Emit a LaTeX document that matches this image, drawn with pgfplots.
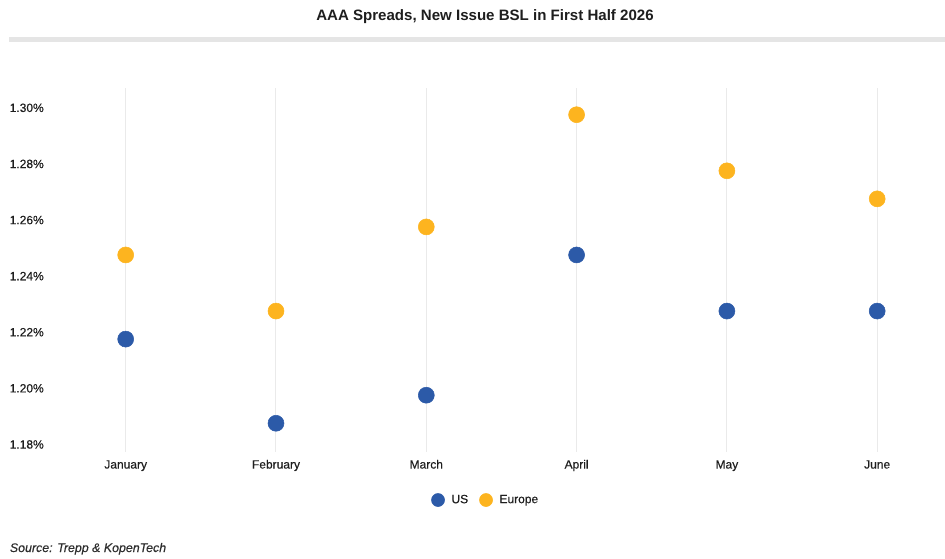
\documentclass[border=0pt]{standalone}
\usepackage{pgfplots}
\pgfplotsset{compat=1.18}
\usepackage{pgfplotstable}
\usepackage{fontspec}
\setmainfont{Liberation Sans}
% slightly heavier face for labels
\newfontfamily\medfont[FakeBold=0.35]{Liberation Sans}

\definecolor{usblue}{HTML}{2C5AA8}
\definecolor{euyellow}{HTML}{FDB41F}
\definecolor{gridgray}{HTML}{EAEAEA}
\definecolor{bargray}{HTML}{E5E5E5}
\definecolor{txt}{HTML}{1E1E1E}
\definecolor{srctxt}{HTML}{2E2E2E}

% AAA spreads (%) by month, 0 = January ... 5 = June
\pgfplotstableread{
x us europe
0 1.2175 1.2475
1 1.1875 1.2275
2 1.1975 1.2575
3 1.2475 1.2975
4 1.2275 1.2775
5 1.2275 1.2675
}\spreads

\begin{document}
\begin{tikzpicture}[x=1pt,y=1pt]
\useasboundingbox (0,0) rectangle (708.75,418.5);
% header
\node[anchor=base, font=\fontsize{11.3}{13}\selectfont\bfseries, text=txt]
  at (363.75,402.75) {AAA Spreads, New Issue BSL in First Half 2026};
\fill[bargray] (6.75,387) rectangle (708.75,390.75);

\begin{axis}[
  at={(37.91pt,79.5pt)}, anchor=south west,
  scale only axis, width=670.7pt, height=273pt,
  xmin=-0.5, xmax=5.45,
  ymin=1.177255, ymax=1.30702,
  axis line style={draw=none},
  tick style={draw=none},
  xtick={0,1,2,3,4,5},
  xticklabels={January,February,March,April,May,June},
  ytick={1.18,1.2,1.22,1.24,1.26,1.28,1.3},
  /pgf/number format/assume math mode=true,
  yticklabel={\pgfmathprintnumber[fixed,fixed zerofill,precision=2]{\tick}\%},
  xmajorgrids,
  grid style={color=gridgray, line width=0.75pt},
  ticklabel style={font=\medfont\fontsize{9}{11}\selectfont, text=txt, inner sep=0pt},
  xticklabel style={anchor=base, yshift=-12.4pt},
  yticklabel style={anchor=base east, xshift=-4.9pt, yshift=-3.2pt},
  legend style={draw=none, fill=none, at={(0.4855,-0.1319)}, anchor=center,
    legend columns=2, font=\medfont\fontsize{9}{11}\selectfont, text=txt,
    nodes={inner sep=0pt},
    /tikz/every even column/.append style={column sep=8.3pt},
    /tikz/every odd column/.append style={column sep=5pt}},
  legend image code/.code={\fill[#1] (4.9pt,0pt) circle (4.9pt);},
]
\addplot[only marks, mark=*, mark size=6pt, color=usblue] table[x=x, y=us] {\spreads};
\addlegendentry{US}
\addplot[only marks, mark=*, mark size=6pt, color=euyellow] table[x=x, y=europe] {\spreads};
\addlegendentry{Europe}
\end{axis}

\node[anchor=base west, font=\medfont\fontsize{9.3}{11}\selectfont\itshape, text=srctxt]
  at (3.9,4.5) {Source: Trepp \& KopenTech};
\end{tikzpicture}
\end{document}
